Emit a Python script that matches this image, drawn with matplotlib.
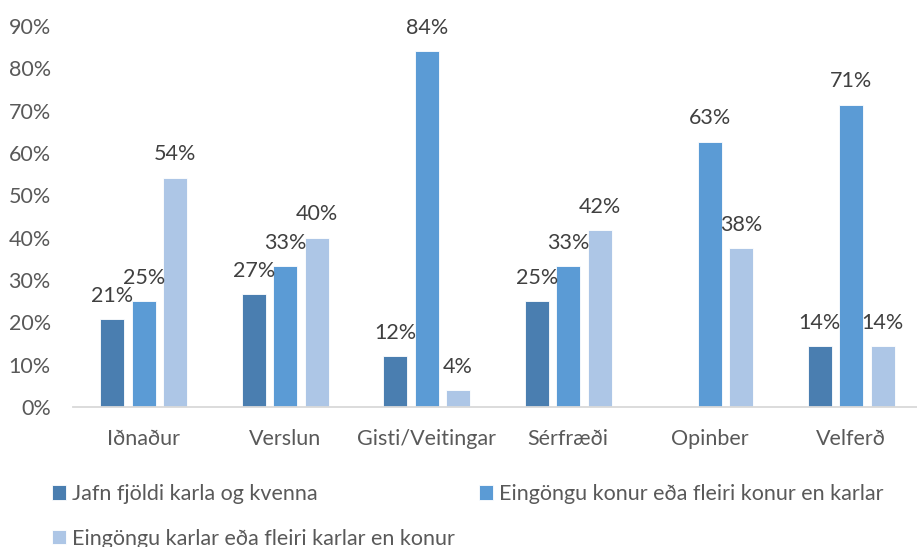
import matplotlib
matplotlib.use("Agg")
import matplotlib.pyplot as plt
import numpy as np

categories = ["Iðnaður", "Verslun", "Gisti/Veitingar", "Sérfræði", "Opinber", "Velferð"]
series_names = ["Jafn fjöldi karla og kvenna",
                "Eingöngu konur eða fleiri konur en karlar",
                "Eingöngu karlar eða fleiri karlar en konur"]
jafn = [0.208, 0.267, 0.12, 0.25, 0.0, 0.143]
konur = [0.25, 0.333, 0.84, 0.333, 0.627, 0.714]
karlar = [0.542, 0.40, 0.04, 0.417, 0.375, 0.143]
yticks = [0, 0.1, 0.2, 0.3, 0.4, 0.5, 0.6, 0.7, 0.8, 0.9]

colors = ["#4A7EB0", "#5B9BD5", "#ADC6E6"]
plt.rcParams['font.family'] = ['Lato', 'DejaVu Sans']
FS = 15.5

fig = plt.figure(figsize=(9.17, 5.47), dpi=100)
ax = fig.add_axes([73/917, 1-407/547, (922-73)/917, (407-26)/547])

x = np.arange(len(categories))
width = 0.17
pitch = 0.222
handles = []
for i, (vals, c, name) in enumerate(zip([jafn, konur, karlar], colors, series_names)):
    pos = x + (i-1)*pitch
    bars = ax.bar(pos, vals, width, color=c, edgecolor="white", linewidth=0.6, label=name)
    handles.append(bars)
    for b, v in zip(bars, vals):
        if v > 0:
            ax.annotate(f"{round(v*100):.0f}%", (b.get_x()+b.get_width()/2, v),
                        xytext=(0, 12.5), textcoords="offset points",
                        ha="center", va="baseline", fontsize=FS, color="#404040")

ax.set_xlim(-0.5, 5.5)
ax.set_ylim(0, 0.9)
ax.set_yticks(yticks)
ax.set_yticklabels([f"{int(round(t*100))}%" for t in yticks])
ax.set_xticks(x)
ax.set_xticklabels(categories)
ax.tick_params(axis="both", length=0, labelsize=FS, labelcolor="#595959")
ax.tick_params(axis="y", pad=16)
ax.tick_params(axis="x", pad=16)
for s in ["top", "right", "left"]:
    ax.spines[s].set_visible(False)
ax.spines["bottom"].set_color("#D9D9D9")
ax.spines["bottom"].set_linewidth(1.3)

order = [0, 2, 1]
leg = fig.legend([handles[k] for k in order], [series_names[k] for k in order],
                 loc="upper left", bbox_to_anchor=(52/917, 1-484/547), ncol=2,
                 frameon=False, fontsize=FS, labelcolor="#595959",
                 handlelength=0.65, handleheight=0.65, handletextpad=0.3,
                 columnspacing=1.1, labelspacing=1.15, borderaxespad=0, borderpad=0)

fig.savefig("out.png", dpi=100)
